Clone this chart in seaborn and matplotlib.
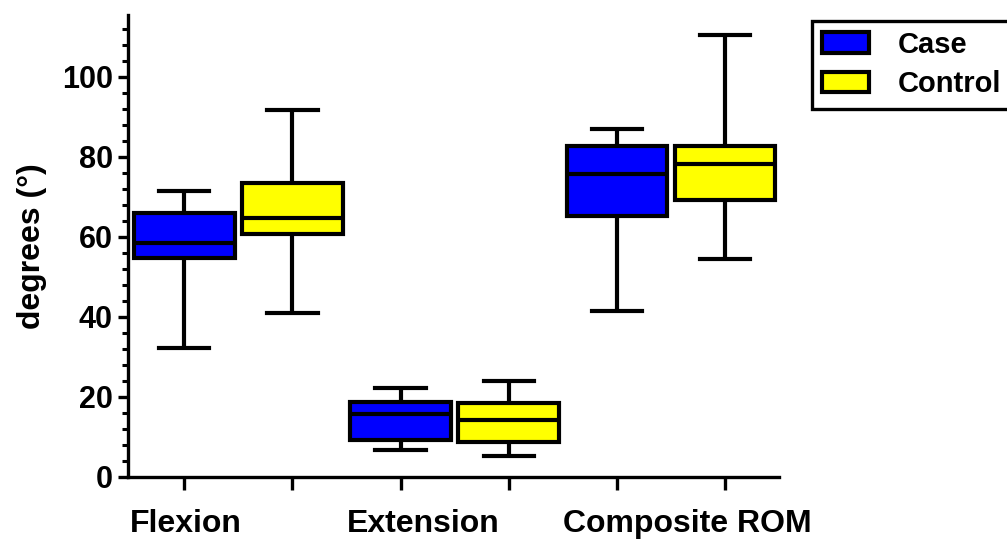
import pandas as pd
import seaborn as sns
import matplotlib.pyplot as plt
from matplotlib.ticker import MultipleLocator

# five-number summaries (min, Q1, median, Q3, max)
measures = ["Flexion", "Extension", "Composite ROM"]
groups = ["Case", "Control"]
flexion_case = [32.3, 54.6, 58.4, 65.9, 71.5]
flexion_control = [41.0, 60.6, 64.8, 73.5, 91.8]
extension_case = [6.7, 9.3, 15.7, 18.7, 22.1]
extension_control = [5.3, 8.8, 14.3, 18.5, 24.0]
composite_case = [41.4, 65.2, 75.7, 82.8, 87.1]
composite_control = [54.5, 69.2, 78.2, 82.7, 110.6]
colors = ["#0000FF", "#FFFF00"]

summaries = {
    ("Flexion", "Case"): flexion_case,
    ("Flexion", "Control"): flexion_control,
    ("Extension", "Case"): extension_case,
    ("Extension", "Control"): extension_control,
    ("Composite ROM", "Case"): composite_case,
    ("Composite ROM", "Control"): composite_control,
}
rows = []
for (m, g), vals in summaries.items():
    for v in vals:
        rows.append({"measure": m, "group": g, "value": v})
df = pd.DataFrame(rows)

plt.rcParams["font.family"] = ["Liberation Sans", "DejaVu Sans"]
plt.rcParams["font.weight"] = "bold"

fig = plt.figure(figsize=(10.07, 5.42), dpi=100)
ax = fig.add_axes([0.1271, 0.1205, 0.6465, 0.8518])

sns.boxplot(data=df, x="measure", y="value", hue="group", order=measures,
            hue_order=groups, palette=colors, saturation=1, whis=(0, 100),
            width=1.0, gap=0.07, linecolor="black", linewidth=3, ax=ax)

ax.set_xlim(-0.51, 2.5)
ax.set_ylim(0, 115.5)
for s in ["top", "right"]:
    ax.spines[s].set_visible(False)
for s in ["left", "bottom"]:
    ax.spines[s].set_linewidth(2.4)

ax.yaxis.set_major_locator(MultipleLocator(20))
ax.yaxis.set_minor_locator(MultipleLocator(4))
ax.tick_params(axis="y", which="major", length=7, width=2.4, labelsize=22, pad=4)
ax.tick_params(axis="y", which="minor", length=4.3, width=2.2)

ax.set_xticks([i - 0.5 for i in range(len(measures))])
ax.set_xticklabels(measures)
ax.set_xticks([i + d for i in range(len(measures)) for d in (-0.25, 0.25)], minor=True)
ax.tick_params(axis="x", which="major", length=0, labelsize=23, pad=23)
ax.tick_params(axis="x", which="minor", length=9, width=2.4)
plt.setp(ax.get_xticklabels(), ha="left")

ax.set_xlabel("")
ax.set_ylabel("degrees (°)", fontsize=23, fontweight="bold")
ax.yaxis.set_label_coords(-0.125, 0.5)

sns.move_legend(ax, loc="upper left", bbox_to_anchor=(0.806, 0.962),
                bbox_transform=fig.transFigure, title=None, frameon=True,
                fancybox=False, framealpha=1, fontsize=21, borderaxespad=0,
                handlelength=1.6, handleheight=0.7, handletextpad=1.0,
                borderpad=0.35, labelspacing=0.4)
leg = ax.get_legend()
leg.get_frame().set_edgecolor("black")
leg.get_frame().set_linewidth(2.4)
for h in leg.legend_handles:
    h.set_edgecolor("black")
    h.set_linewidth(3)

fig.savefig("out.png", dpi=100)
